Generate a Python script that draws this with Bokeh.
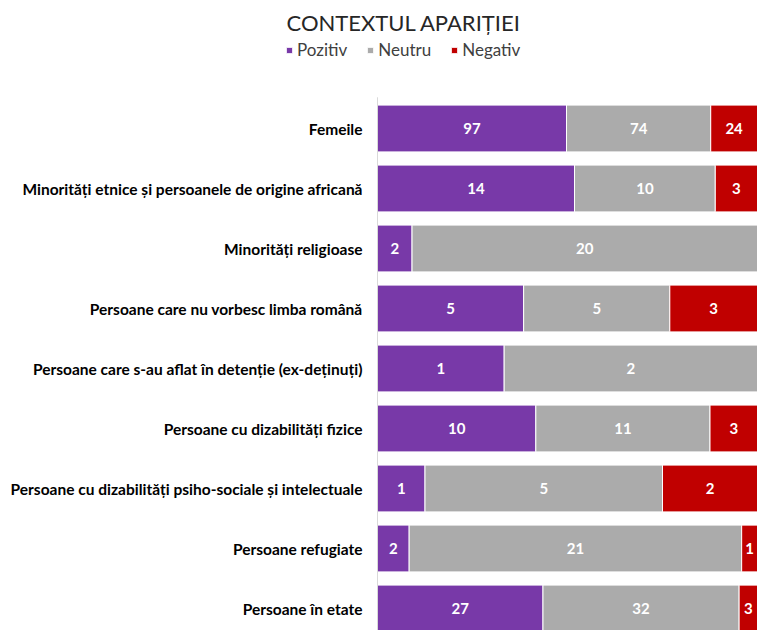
from bokeh.plotting import figure
from bokeh.models import ColumnDataSource, Range1d, FixedTicker, Legend, LegendItem
from bokeh.embed import file_html
from bokeh.resources import INLINE
from bokeh.core.properties import value

title_text = "CONTEXTUL APARIȚIEI"
series_names = ["Pozitiv", "Neutru", "Negativ"]
categories = [
    "Femeile",
    "Minorități etnice și persoanele de origine africană",
    "Minorități religioase",
    "Persoane care nu vorbesc limba română",
    "Persoane care s-au aflat în detenție (ex-deținuți)",
    "Persoane cu dizabilități fizice",
    "Persoane cu dizabilități psiho-sociale și intelectuale",
    "Persoane refugiate",
    "Persoane în etate",
]
pozitiv = [97, 14, 2, 5, 1, 10, 1, 2, 27]
neutru = [74, 10, 20, 5, 2, 11, 5, 21, 32]
negativ = [24, 3, 0, 3, 0, 3, 2, 1, 3]

colors = ["#7839A8", "#ABABAB", "#C00000"]
FONT = "Lato"

n = len(categories)
ypos = [n - 1 - i for i in range(n)]
tot = [a + b + c for a, b, c in zip(pozitiv, neutru, negativ)]
c1 = [a / t for a, t in zip(pozitiv, tot)]
c2 = [(a + b) / t for a, b, t in zip(pozitiv, neutru, tot)]
c3 = [1.0] * n

W, HGT = 757, 630
FRAME_LEFT = 285     # frame starts where the legend starts
BAR_LEFT = 377       # bars (value 0) start here
FRAME_TOP = 39
frame_w = W - FRAME_LEFT
frame_h = HGT - FRAME_TOP
xstart = -(BAR_LEFT - FRAME_LEFT) / (W - BAR_LEFT)
unit = 60.0
yend = (n - 1) + (128 - FRAME_TOP) / unit
ystart = yend - frame_h / unit

src = ColumnDataSource(dict(y=ypos, l0=[0.0] * n, c1=c1, c2=c2, c3=c3))

p = figure(width=W, height=HGT, output_backend="svg", toolbar_location=None,
           title=title_text,
           x_range=Range1d(xstart, 1), y_range=Range1d(ystart, yend),
           x_axis_location=None, min_border_left=FRAME_LEFT, min_border_right=0,
           min_border_top=FRAME_TOP, min_border_bottom=0)
p.outline_line_color = None
p.grid.visible = False
p.background_fill_color = "white"

p.title.align = "left"
p.title.offset = 1
p.title.standoff = 7
p.title.text_font = FONT
p.title.text_font_size = "22px"
p.title.text_font_style = "normal"
p.title.text_color = "#262626"

H = 0.78
r1 = p.hbar(y="y", left="l0", right="c1", height=H, source=src,
            fill_color=colors[0], line_color="white", line_width=1)
r2 = p.hbar(y="y", left="c1", right="c2", height=H, source=src,
            fill_color=colors[1], line_color="white", line_width=1)
r3 = p.hbar(y="y", left="c2", right="c3", height=H, source=src,
            fill_color=colors[2], line_color="white", line_width=1)

# vertical category axis line at value 0
p.segment(x0=[0], y0=[(n - 1) + 0.52], x1=[0], y1=[ystart], line_color="#D9D9D9", line_width=1)

# data labels
lx, ly, lt = [], [], []
for i in range(n):
    bounds = [0.0, c1[i], c2[i], c3[i]]
    vals = [pozitiv[i], neutru[i], negativ[i]]
    for k in range(3):
        if vals[k] > 0:
            lx.append((bounds[k] + bounds[k + 1]) / 2)
            ly.append(ypos[i])
            lt.append(str(vals[k]))
p.text(x=lx, y=ly, text=lt, text_color="white", text_font=value(FONT),
       text_font_style="bold", text_font_size="15px",
       text_align="center", text_baseline="middle")

ax = p.yaxis[0]
ax.ticker = FixedTicker(ticks=ypos)
ax.major_label_overrides = {y: c for y, c in zip(ypos, categories)}
ax.axis_line_color = None
ax.major_tick_line_color = None
ax.minor_tick_line_color = None
ax.major_label_text_font = FONT
ax.major_label_text_font_style = "bold"
ax.major_label_text_font_size = "15.5px"
ax.major_label_text_color = "#000000"
ax.major_label_standoff = -83

legend = Legend(items=[LegendItem(label=s, renderers=[r]) for s, r in zip(series_names, [r1, r2, r3])],
                location="top_left", orientation="horizontal",
                glyph_width=8, glyph_height=8, spacing=19, label_standoff=4,
                padding=0, margin=0,
                label_text_font=FONT, label_text_font_size="17px",
                label_text_color="#404040",
                border_line_color=None, background_fill_alpha=0)
p.add_layout(legend, "center")

open("out.html", "w").write(file_html(p, INLINE))
